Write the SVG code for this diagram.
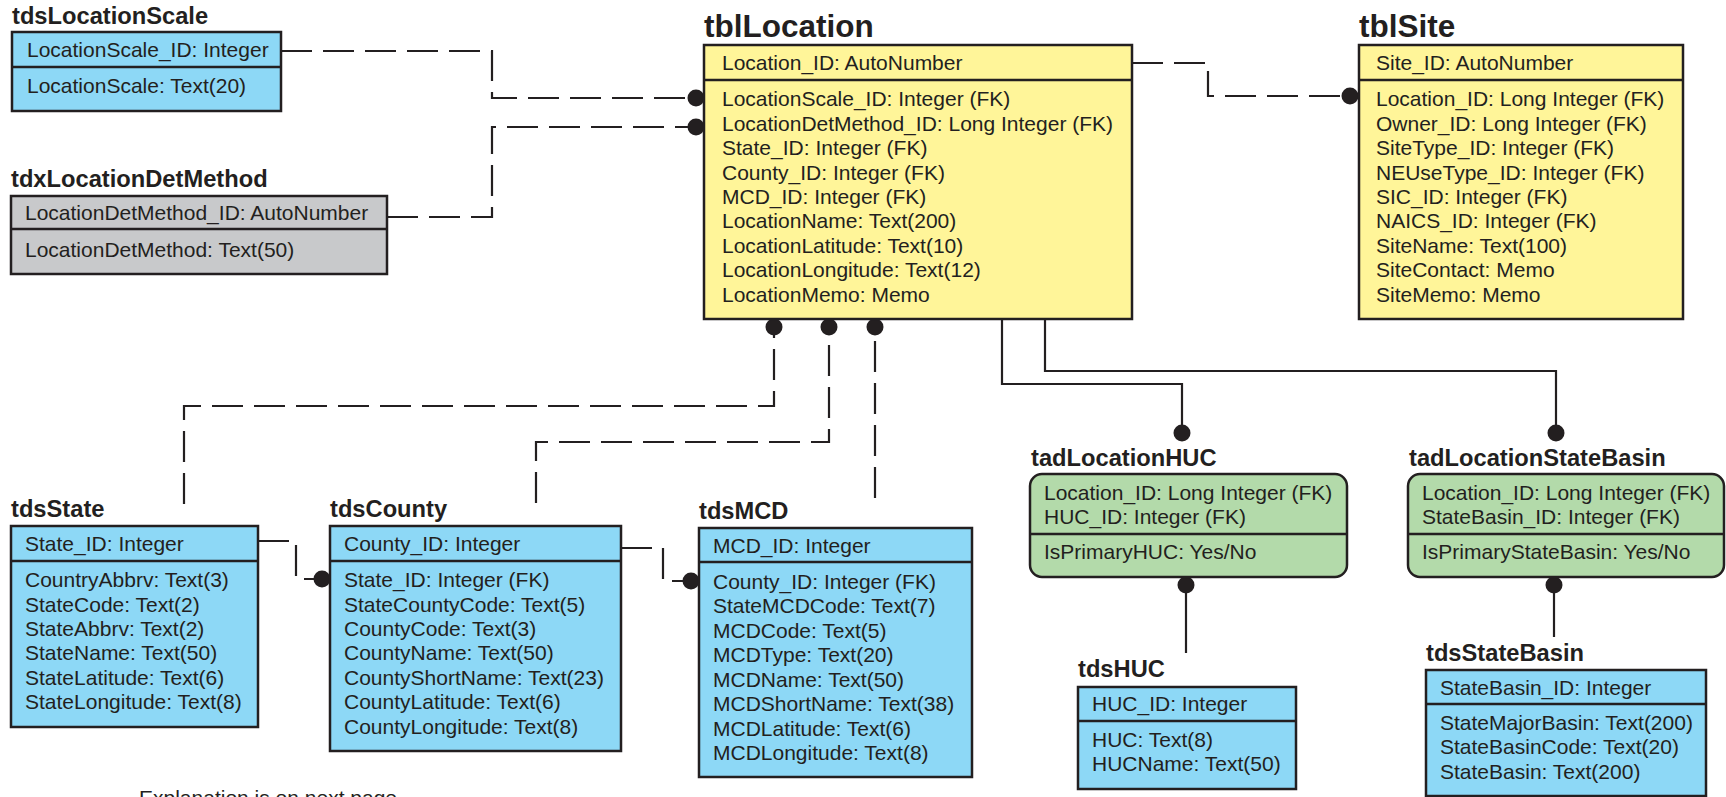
<svg xmlns="http://www.w3.org/2000/svg" width="1726" height="797" viewBox="0 0 1726 797">
<defs>
<style>
.bg{fill:#ffffff}
.box{stroke:#231f20;stroke-width:2.5}
.blue{fill:#8dd8f6}
.yellow{fill:#fff599}
.green{fill:#b3daaa}
.grey{fill:#c8c9cb}
.div{stroke:#231f20;stroke-width:2.5;fill:none}
.t{font-family:"Liberation Sans",Arial,Helvetica,sans-serif;font-size:21px;fill:#231f20}
.h{font-family:"Liberation Sans",Arial,Helvetica,sans-serif;font-size:23.7px;font-weight:bold;fill:#231f20}
.H{font-family:"Liberation Sans",Arial,Helvetica,sans-serif;font-size:31.5px;font-weight:bold;fill:#231f20}
.dash{fill:none;stroke:#231f20;stroke-width:2.2;stroke-dasharray:31 11}
.solid{fill:none;stroke:#231f20;stroke-width:2.2}
.dot{fill:#231f20}
</style>
</defs>
<rect class="bg" x="0" y="0" width="1726" height="797"/>

<g id="connectors">
<path class="dash" d="M281,51 H492 V98 H696"/>
<path class="dash" d="M387,217 H492 V127 H696"/>
<path class="dash" d="M1132,63 H1208 V96 H1350"/>
<path class="dash" d="M184,504 V406 H774 V327"/>
<path class="dash" d="M536,503 V442 H829 V327"/>
<path class="dash" d="M875,498 V327"/>
<path class="solid" d="M1002,319 V384 H1182 V433"/>
<path class="solid" d="M1045,319 V371 H1556 V433"/>
<path class="solid" d="M1186,585 V653"/>
<path class="solid" d="M1554,585 V637"/>
<path class="dash" d="M258,541 H296 V579 H322"/>
<path class="dash" d="M621,548 H663 V581 H691"/>
<circle class="dot" cx="696" cy="98" r="8.5"/>
<circle class="dot" cx="696" cy="127" r="8.5"/>
<circle class="dot" cx="1350" cy="96" r="8.5"/>
<circle class="dot" cx="774" cy="327" r="8.5"/>
<circle class="dot" cx="829" cy="327" r="8.5"/>
<circle class="dot" cx="875" cy="327" r="8.5"/>
<circle class="dot" cx="1182" cy="433" r="8.5"/>
<circle class="dot" cx="1556" cy="433" r="8.5"/>
<circle class="dot" cx="1186" cy="585" r="8.5"/>
<circle class="dot" cx="1554" cy="585" r="8.5"/>
<circle class="dot" cx="322" cy="579" r="8.5"/>
<circle class="dot" cx="691" cy="581" r="8.5"/>
</g>

<g id="tdsLocationScale">
<text class="h" x="12" y="24">tdsLocationScale</text>
<rect class="box blue" x="12" y="32" width="269" height="79"/>
<line class="div" x1="12" y1="67" x2="281" y2="67"/>
<text class="t" x="27" y="57">LocationScale_ID: Integer</text>
<text class="t" x="27" y="93">LocationScale: Text(20)</text>
</g>

<g id="tdxLocationDetMethod">
<text class="h" x="11" y="187">tdxLocationDetMethod</text>
<rect class="box grey" x="11" y="196" width="376" height="78"/>
<line class="div" x1="11" y1="229" x2="387" y2="229"/>
<text class="t" x="25" y="220">LocationDetMethod_ID: AutoNumber</text>
<text class="t" x="25" y="257">LocationDetMethod: Text(50)</text>
</g>

<g id="tblLocation">
<text class="H" x="704" y="37">tblLocation</text>
<rect class="box yellow" x="704" y="45" width="428" height="274"/>
<line class="div" x1="704" y1="80" x2="1132" y2="80"/>
<text class="t" x="722" y="70">Location_ID: AutoNumber</text>
<text class="t" x="722" y="106">LocationScale_ID: Integer (FK)</text>
<text class="t" x="722" y="131">LocationDetMethod_ID: Long Integer (FK)</text>
<text class="t" x="722" y="155">State_ID: Integer (FK)</text>
<text class="t" x="722" y="180">County_ID: Integer (FK)</text>
<text class="t" x="722" y="204">MCD_ID: Integer (FK)</text>
<text class="t" x="722" y="228">LocationName: Text(200)</text>
<text class="t" x="722" y="253">LocationLatitude: Text(10)</text>
<text class="t" x="722" y="277">LocationLongitude: Text(12)</text>
<text class="t" x="722" y="302">LocationMemo: Memo</text>
</g>

<g id="tblSite">
<text class="H" x="1359" y="37">tblSite</text>
<rect class="box yellow" x="1359" y="45" width="324" height="274"/>
<line class="div" x1="1359" y1="80" x2="1683" y2="80"/>
<text class="t" x="1376" y="70">Site_ID: AutoNumber</text>
<text class="t" x="1376" y="106">Location_ID: Long Integer (FK)</text>
<text class="t" x="1376" y="131">Owner_ID: Long Integer (FK)</text>
<text class="t" x="1376" y="155">SiteType_ID: Integer (FK)</text>
<text class="t" x="1376" y="180">NEUseType_ID: Integer (FK)</text>
<text class="t" x="1376" y="204">SIC_ID: Integer (FK)</text>
<text class="t" x="1376" y="228">NAICS_ID: Integer (FK)</text>
<text class="t" x="1376" y="253">SiteName: Text(100)</text>
<text class="t" x="1376" y="277">SiteContact: Memo</text>
<text class="t" x="1376" y="302">SiteMemo: Memo</text>
</g>

<g id="tdsState">
<text class="h" x="11" y="517">tdsState</text>
<rect class="box blue" x="11" y="526" width="247" height="201"/>
<line class="div" x1="11" y1="561" x2="258" y2="561"/>
<text class="t" x="25" y="551">State_ID: Integer</text>
<text class="t" x="25" y="587">CountryAbbrv: Text(3)</text>
<text class="t" x="25" y="612">StateCode: Text(2)</text>
<text class="t" x="25" y="636">StateAbbrv: Text(2)</text>
<text class="t" x="25" y="660">StateName: Text(50)</text>
<text class="t" x="25" y="685">StateLatitude: Text(6)</text>
<text class="t" x="25" y="709">StateLongitude: Text(8)</text>
</g>

<g id="tdsCounty">
<text class="h" x="330" y="517">tdsCounty</text>
<rect class="box blue" x="330" y="526" width="291" height="225"/>
<line class="div" x1="330" y1="561" x2="621" y2="561"/>
<text class="t" x="344" y="551">County_ID: Integer</text>
<text class="t" x="344" y="587">State_ID: Integer (FK)</text>
<text class="t" x="344" y="612">StateCountyCode: Text(5)</text>
<text class="t" x="344" y="636">CountyCode: Text(3)</text>
<text class="t" x="344" y="660">CountyName: Text(50)</text>
<text class="t" x="344" y="685">CountyShortName: Text(23)</text>
<text class="t" x="344" y="709">CountyLatitude: Text(6)</text>
<text class="t" x="344" y="734">CountyLongitude: Text(8)</text>
</g>

<g id="tdsMCD">
<text class="h" x="699" y="519">tdsMCD</text>
<rect class="box blue" x="699" y="528" width="273" height="249"/>
<line class="div" x1="699" y1="562" x2="972" y2="562"/>
<text class="t" x="713" y="553">MCD_ID: Integer</text>
<text class="t" x="713" y="589">County_ID: Integer (FK)</text>
<text class="t" x="713" y="613">StateMCDCode: Text(7)</text>
<text class="t" x="713" y="638">MCDCode: Text(5)</text>
<text class="t" x="713" y="662">MCDType: Text(20)</text>
<text class="t" x="713" y="687">MCDName: Text(50)</text>
<text class="t" x="713" y="711">MCDShortName: Text(38)</text>
<text class="t" x="713" y="736">MCDLatitude: Text(6)</text>
<text class="t" x="713" y="760">MCDLongitude: Text(8)</text>
</g>

<g id="tadLocationHUC">
<text class="h" x="1031" y="466">tadLocationHUC</text>
<rect class="box green" x="1030" y="474" width="317" height="103" rx="12" ry="12"/>
<line class="div" x1="1030" y1="534" x2="1347" y2="534"/>
<text class="t" x="1044" y="500">Location_ID: Long Integer (FK)</text>
<text class="t" x="1044" y="524">HUC_ID: Integer (FK)</text>
<text class="t" x="1044" y="559">IsPrimaryHUC: Yes/No</text>
</g>

<g id="tdsHUC">
<text class="h" x="1078" y="677">tdsHUC</text>
<rect class="box blue" x="1078" y="687" width="218" height="102"/>
<line class="div" x1="1078" y1="721" x2="1296" y2="721"/>
<text class="t" x="1092" y="711">HUC_ID: Integer</text>
<text class="t" x="1092" y="747">HUC: Text(8)</text>
<text class="t" x="1092" y="771">HUCName: Text(50)</text>
</g>

<g id="tadLocationStateBasin">
<text class="h" x="1409" y="466">tadLocationStateBasin</text>
<rect class="box green" x="1408" y="474" width="316" height="103" rx="12" ry="12"/>
<line class="div" x1="1408" y1="534" x2="1724" y2="534"/>
<text class="t" x="1422" y="500">Location_ID: Long Integer (FK)</text>
<text class="t" x="1422" y="524">StateBasin_ID: Integer (FK)</text>
<text class="t" x="1422" y="559">IsPrimaryStateBasin: Yes/No</text>
</g>

<g id="tdsStateBasin">
<text class="h" x="1426" y="661">tdsStateBasin</text>
<rect class="box blue" x="1426" y="670" width="280" height="126"/>
<line class="div" x1="1426" y1="704" x2="1706" y2="704"/>
<text class="t" x="1440" y="695">StateBasin_ID: Integer</text>
<text class="t" x="1440" y="730">StateMajorBasin: Text(200)</text>
<text class="t" x="1440" y="754">StateBasinCode: Text(20)</text>
<text class="t" x="1440" y="779">StateBasin: Text(200)</text>
</g>

<text class="t" x="139" y="805">Explanation is on next page</text>
</svg>
